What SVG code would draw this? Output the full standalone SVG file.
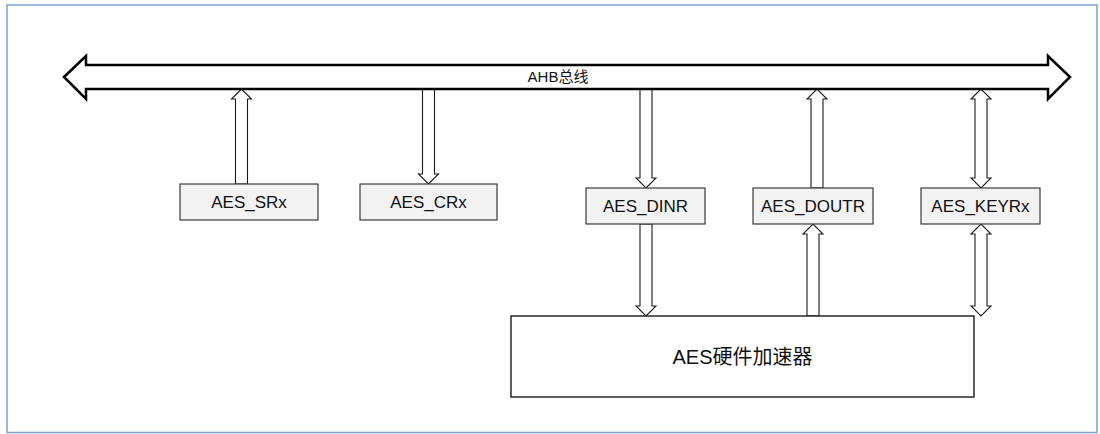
<svg xmlns="http://www.w3.org/2000/svg" width="1100" height="434" viewBox="0 0 1100 434">
  <style>
    .frame { fill: #ffffff; stroke: #7aa2d2; stroke-width: 1.5; }
    .bus { fill: #ffffff; stroke: #000000; stroke-width: 2.5; stroke-linejoin: miter; }
    .arr { fill: #ffffff; stroke: #1a1a1a; stroke-width: 1.1; stroke-linejoin: miter; }
    .reg { fill: #f2f2f2; stroke: #3a3a3a; stroke-width: 1.2; }
    .core { fill: #ffffff; stroke: #1a1a1a; stroke-width: 1.4; }
    .t { font-family: "Liberation Sans", "Noto Sans CJK SC", sans-serif; fill: #111111; text-anchor: middle; }
    .reg-t { font-size: 17px; }
  </style>
  <rect class="frame" x="7" y="5" width="1090" height="427.5"/>

  <g id="connectors">
    <!-- SRx up to bus -->
    <path class="arr" d="M235.5,184 L235.5,99 L231.5,99 L241.5,89 L251.5,99 L247.5,99 L247.5,184 Z"/>
    <!-- bus down to CRx -->
    <path class="arr" d="M422.5,89 L434.5,89 L434.5,174 L438.5,174 L428.5,184 L418.5,174 L422.5,174 Z"/>
    <!-- bus down to DINR -->
    <path class="arr" d="M640,89 L652,89 L652,178 L656,178 L646,188 L636,178 L640,178 Z"/>
    <!-- DOUTR up to bus -->
    <path class="arr" d="M811,188 L811,99 L807,99 L817,89 L827,99 L823,99 L823,188 Z"/>
    <!-- KEYRx <-> bus -->
    <path class="arr" d="M975,99 L971,99 L981,89 L991,99 L987,99 L987,178 L991,178 L981,188 L971,178 L975,178 Z"/>
    <!-- DINR down to core -->
    <path class="arr" d="M640,224 L652,224 L652,306 L656,306 L646,316 L636,306 L640,306 Z"/>
    <!-- core up to DOUTR -->
    <path class="arr" d="M807,316 L807,234 L803,234 L813,224 L823,234 L819,234 L819,316 Z"/>
    <!-- KEYRx <-> core -->
    <path class="arr" d="M975,234 L971,234 L981,224 L991,234 L987,234 L987,306 L991,306 L981,316 L971,306 L975,306 Z"/>
  </g>

  <g id="ahb-bus">
    <path class="bus" d="M64,77 L86,56 L86,65 L1048,65 L1048,56 L1070,77 L1048,99 L1048,89 L86,89 L86,99 Z"/>
    <text class="t" x="558" y="82" font-size="15">AHB总线</text>
  </g>

  <g id="aes-srx">
    <rect class="reg" x="180" y="184" width="138" height="36"/>
    <text class="t reg-t" x="249" y="208">AES_SRx</text>
  </g>
  <g id="aes-crx">
    <rect class="reg" x="360" y="184" width="137" height="36"/>
    <text class="t reg-t" x="428.5" y="208">AES_CRx</text>
  </g>
  <g id="aes-dinr">
    <rect class="reg" x="586" y="188" width="119" height="36"/>
    <text class="t reg-t" x="645.5" y="212">AES_DINR</text>
  </g>
  <g id="aes-doutr">
    <rect class="reg" x="753" y="188" width="120" height="36"/>
    <text class="t reg-t" x="813" y="212">AES_DOUTR</text>
  </g>
  <g id="aes-keyrx">
    <rect class="reg" x="921" y="188" width="119" height="36"/>
    <text class="t reg-t" x="980.5" y="212">AES_KEYRx</text>
  </g>

  <g id="aes-core">
    <rect class="core" x="511" y="316" width="463" height="81"/>
    <text class="t" x="742.5" y="364" font-size="20">AES硬件加速器</text>
  </g>
</svg>
